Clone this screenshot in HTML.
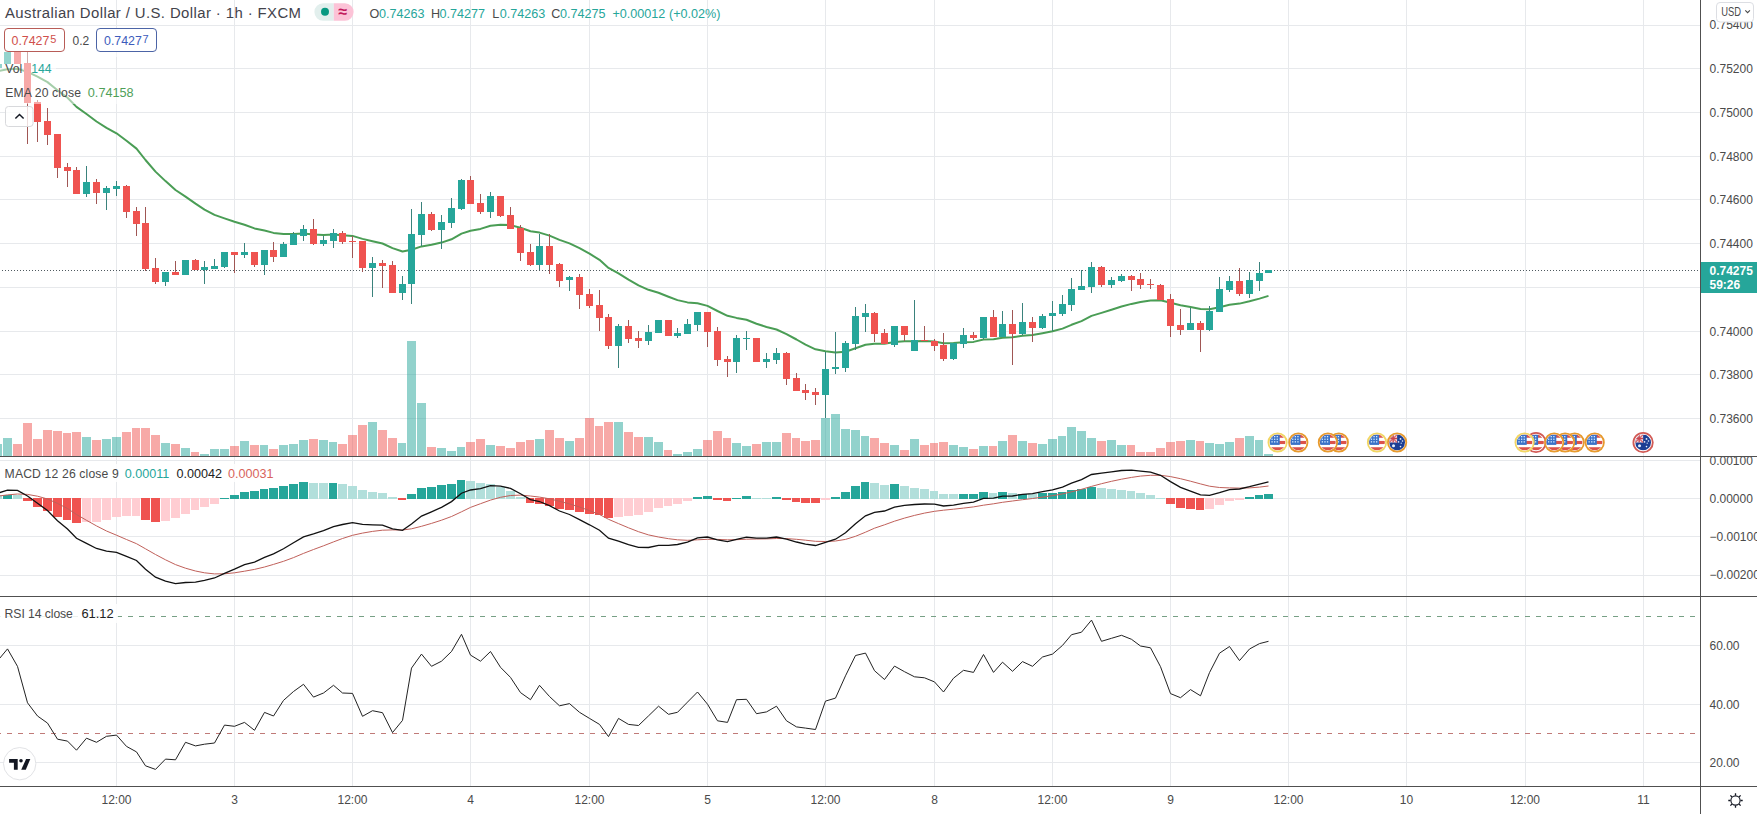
<!DOCTYPE html>
<html><head><meta charset="utf-8"><title>AUDUSD 1h</title>
<style>html,body{margin:0;padding:0;background:#fff;} .wrap{position:relative;width:1757px;height:814px;overflow:hidden;}</style>
</head><body><div class="wrap">
<svg width="1757" height="814" viewBox="0 0 1757 814" style="position:absolute;left:0;top:0;font-family:'Liberation Sans', Arial, sans-serif">
<rect x="0" y="0" width="1757" height="814" fill="#fff"/>
<path d="M116.5 0V786 M234.5 0V786 M352.5 0V786 M470.5 0V786 M589.5 0V786 M707.5 0V786 M825.5 0V786 M934.5 0V786 M1052.5 0V786 M1170.5 0V786 M1288.5 0V786 M1406.5 0V786 M1525.5 0V786 M1643.5 0V786 M0 25.5H1700 M0 68.5H1700 M0 112.5H1700 M0 156.5H1700 M0 199.5H1700 M0 243.5H1700 M0 287.5H1700 M0 331.5H1700 M0 374.5H1700 M0 418.5H1700 M0 460.5H1700 M0 498.5H1700 M0 536.5H1700 M0 575.5H1700 M0 645.5H1700 M0 704.5H1700 M0 762.5H1700" stroke="#e7e9ec" stroke-width="1" fill="none"/>
<defs><clipPath id="cm"><rect x="0" y="0" width="1700" height="456"/></clipPath><clipPath id="cmacd"><rect x="0" y="457" width="1700" height="139"/></clipPath><clipPath id="crsi"><rect x="0" y="597" width="1700" height="189"/></clipPath></defs>
<g clip-path="url(#cm)">
<path d="M0 270.5H1700" stroke="#505a60" stroke-width="1" stroke-dasharray="1 2" stroke-dashoffset="1"/>
<path d="M-6 444H2V456H-6ZM3 438H12V456H3ZM82 437H91V456H82ZM102 439H111V456H102ZM112 437H121V456H112ZM161 443H170V456H161ZM181 448H190V456H181ZM200 454H209V456H200ZM210 449H219V456H210ZM220 449H229V456H220ZM240 441H249V456H240ZM260 445H268V456H260ZM279 445H288V456H279ZM289 444H298V456H289ZM299 440H308V456H299ZM319 440H328V456H319ZM329 442H337V456H329ZM368 422H377V456H368ZM398 443H406V456H398ZM407 341H416V456H407ZM417 403H426V456H417ZM437 448H446V456H437ZM447 451H456V456H447ZM457 447H465V456H457ZM486 445H495V456H486ZM535 439H544V456H535ZM565 441H574V456H565ZM614 422H623V456H614ZM644 437H653V456H644ZM654 442H663V456H654ZM673 454H682V456H673ZM683 452H692V456H683ZM693 449H702V456H693ZM732 443H741V456H732ZM742 446H751V456H742ZM762 442H771V456H762ZM772 442H781V456H772ZM821 418H830V456H821ZM831 414H840V456H831ZM841 429H850V456H841ZM851 430H860V456H851ZM861 436H869V456H861ZM890 445H899V456H890ZM910 439H919V456H910ZM949 445H958V456H949ZM959 447H968V456H959ZM979 446H988V456H979ZM998 441H1007V456H998ZM1018 441H1027V456H1018ZM1038 444H1047V456H1038ZM1048 439H1057V456H1048ZM1058 436H1066V456H1058ZM1067 427H1076V456H1067ZM1077 431H1086V456H1077ZM1087 438H1096V456H1087ZM1107 440H1116V456H1107ZM1117 445H1126V456H1117ZM1186 440H1195V456H1186ZM1205 443H1214V456H1205ZM1215 444H1224V456H1215ZM1225 442H1234V456H1225ZM1245 436H1254V456H1245ZM1255 440H1263V456H1255ZM1264 454H1273V456H1264Z" fill="#26a69a" fill-opacity="0.5"/>
<path d="M13 444H22V456H13ZM23 423H32V456H23ZM33 439H42V456H33ZM43 430H52V456H43ZM53 431H62V456H53ZM63 433H71V456H63ZM72 432H81V456H72ZM92 440H101V456H92ZM122 432H131V456H122ZM132 428H140V456H132ZM141 428H150V456H141ZM151 435H160V456H151ZM171 444H180V456H171ZM191 452H199V456H191ZM230 446H239V456H230ZM250 445H259V456H250ZM269 449H278V456H269ZM309 439H318V456H309ZM338 444H347V456H338ZM348 435H357V456H348ZM358 425H367V456H358ZM378 430H387V456H378ZM388 438H397V456H388ZM427 447H436V456H427ZM466 442H475V456H466ZM476 439H485V456H476ZM496 446H505V456H496ZM506 448H515V456H506ZM516 442H525V456H516ZM526 440H534V456H526ZM545 430H554V456H545ZM555 438H564V456H555ZM575 438H584V456H575ZM585 418H594V456H585ZM595 426H603V456H595ZM604 422H613V456H604ZM624 432H633V456H624ZM634 437H643V456H634ZM664 450H672V456H664ZM703 440H712V456H703ZM713 431H722V456H713ZM723 438H731V456H723ZM752 444H761V456H752ZM782 433H791V456H782ZM792 438H800V456H792ZM801 441H810V456H801ZM811 440H820V456H811ZM870 438H879V456H870ZM880 443H889V456H880ZM900 450H909V456H900ZM920 445H929V456H920ZM930 443H938V456H930ZM939 442H948V456H939ZM969 449H978V456H969ZM989 446H997V456H989ZM1008 435H1017V456H1008ZM1028 443H1037V456H1028ZM1097 441H1106V456H1097ZM1127 445H1135V456H1127ZM1136 452H1145V456H1136ZM1146 452H1155V456H1146ZM1156 448H1165V456H1156ZM1166 442H1175V456H1166ZM1176 441H1185V456H1176ZM1196 441H1204V456H1196ZM1235 438H1244V456H1235Z" fill="#ef5350" fill-opacity="0.5"/>
<polyline points="-1.5,71.1 7.5,69.2 17.5,68.7 27.5,71.9 37.5,76.6 47.5,82.1 57.5,90.2 67.5,97.8 76.5,106.9 86.5,114.0 96.5,121.5 106.5,127.8 116.5,133.3 126.5,140.7 136.5,148.6 145.5,160.0 155.5,171.6 165.5,181.1 175.5,190.0 185.5,196.6 195.5,203.6 204.5,209.6 214.5,214.9 224.5,218.4 234.5,221.8 244.5,224.7 254.5,228.4 264.5,230.5 273.5,232.9 283.5,234.0 293.5,233.9 303.5,233.4 313.5,234.4 323.5,234.9 333.5,234.6 342.5,235.3 352.5,235.9 362.5,238.9 372.5,241.2 382.5,243.5 392.5,248.1 402.5,251.5 411.5,249.8 421.5,246.4 431.5,244.8 441.5,242.6 451.5,239.3 461.5,233.6 470.5,230.7 480.5,228.9 490.5,225.7 500.5,224.8 510.5,225.1 520.5,227.7 530.5,231.2 539.5,232.6 549.5,235.6 559.5,239.9 569.5,243.4 579.5,248.2 589.5,253.7 599.5,259.8 608.5,267.9 618.5,273.4 628.5,279.6 638.5,285.4 648.5,289.8 658.5,292.7 668.5,296.7 677.5,300.1 687.5,302.4 697.5,303.3 707.5,305.9 717.5,311.0 727.5,315.8 736.5,317.9 746.5,319.8 756.5,323.7 766.5,327.0 776.5,329.5 786.5,334.2 796.5,339.5 805.5,344.6 815.5,349.3 825.5,351.2 835.5,352.6 845.5,351.7 855.5,348.2 865.5,344.8 874.5,343.7 884.5,343.8 894.5,342.1 904.5,341.3 914.5,341.2 924.5,341.1 934.5,341.5 943.5,343.2 953.5,343.1 963.5,342.3 973.5,341.9 983.5,339.5 993.5,339.2 1002.5,337.7 1012.5,337.3 1022.5,335.8 1032.5,335.0 1042.5,333.2 1052.5,331.2 1062.5,328.6 1071.5,324.8 1081.5,321.1 1091.5,315.9 1101.5,312.9 1111.5,309.7 1121.5,306.5 1131.5,303.9 1140.5,302.0 1150.5,300.4 1160.5,300.3 1170.5,302.7 1180.5,305.2 1190.5,306.9 1200.5,309.0 1209.5,309.2 1219.5,307.2 1229.5,304.7 1239.5,303.6 1249.5,301.3 1259.5,298.6 1268.5,295.9" fill="none" stroke="#4a9d55" stroke-width="2" stroke-linejoin="round"/>
<path d="M-1.5 64V68M7.5 52V64M86.5 166V197M106.5 186V210M116.5 181V196M165.5 272V286M185.5 260V275M204.5 261V284M214.5 259V269M224.5 252V268M244.5 243V258M264.5 250V275M283.5 242V257M293.5 232V245M303.5 225V241M323.5 236V246M333.5 229V248M372.5 257V297M402.5 276V300M411.5 209V304M421.5 202V246M441.5 215V249M451.5 198V228M461.5 179V210M490.5 192V218M539.5 234V270M569.5 276V291M618.5 324V368M648.5 325V345M658.5 320V333M677.5 328V338M687.5 319V334M697.5 312V331M736.5 335V373M746.5 331V350M766.5 353V368M776.5 348V364M825.5 352V418M835.5 332V374M845.5 341V372M855.5 307V350M865.5 304V332M894.5 326V347M914.5 300V351M953.5 343V360M963.5 328V348M983.5 317V339M1002.5 311V337M1022.5 303V335M1042.5 314V329M1052.5 301V331M1062.5 295V316M1071.5 278V311M1081.5 270V290M1091.5 262V293M1111.5 277V288M1121.5 274V282M1190.5 308V330M1209.5 306V331M1219.5 277V312M1229.5 276V292M1249.5 272V298M1259.5 262V291M1268.5 270V273" stroke="#3a827c" stroke-width="1" fill="none"/>
<path d="M-5 64H2V68H-5ZM4 52H11V64H4ZM83 182H90V194H83ZM103 188H110V193H103ZM113 186H120V189H113ZM162 272H169V282H162ZM182 260H189V275H182ZM201 267H208V270H201ZM211 266H218V269H211ZM221 252H228V267H221ZM241 252H248V255H241ZM261 250H268V265H261ZM280 244H287V257H280ZM290 234H297V245H290ZM300 229H307V236H300ZM320 240H327V244H320ZM330 233H337V241H330ZM369 263H376V268H369ZM399 284H406V293H399ZM408 234H415V284H408ZM418 214H425V235H418ZM438 222H445V230H438ZM448 208H455V223H448ZM458 180H465V209H458ZM487 196H494V212H487ZM536 246H543V265H536ZM566 277H573V280H566ZM615 326H622V346H615ZM645 332H652V341H645ZM655 320H662V333H655ZM674 333H681V336H674ZM684 324H691V334H684ZM694 312H701V325H694ZM733 338H740V362H733ZM743 338H750V339H743ZM763 359H770V362H763ZM773 353H780V360H773ZM822 369H829V395H822ZM832 367H839V369H832ZM842 343H849V368H842ZM852 316H859V344H852ZM862 313H869V317H862ZM891 326H898V345H891ZM911 340H918V351H911ZM950 343H957V359H950ZM960 335H967V344H960ZM980 317H987V338H980ZM999 324H1006V337H999ZM1019 322H1026V334H1019ZM1039 316H1046V328H1039ZM1049 313H1056V316H1049ZM1059 304H1066V314H1059ZM1068 289H1075V305H1068ZM1078 286H1085V290H1078ZM1088 267H1095V287H1088ZM1108 280H1115V285H1108ZM1118 276H1125V281H1118ZM1187 323H1194V330H1187ZM1206 311H1213V330H1206ZM1216 289H1223V312H1216ZM1226 281H1233V290H1226ZM1246 280H1253V294H1246ZM1256 273H1263V281H1256ZM1265 270H1272V273H1265Z" fill="#26a69a"/>
<path d="M17.5 52V64M27.5 50V144M37.5 100V142M47.5 108V145M57.5 134V178M67.5 163V187M76.5 167V194M96.5 179V204M126.5 185V218M136.5 207V236M145.5 207V271M155.5 258V284M175.5 261V275M195.5 259V270M234.5 252V273M254.5 252V267M273.5 242V262M313.5 219V245M342.5 231V244M352.5 236V258M362.5 241V272M382.5 260V288M392.5 261V293M431.5 212V231M470.5 176V204M480.5 194V214M500.5 196V217M510.5 207V229M520.5 225V261M530.5 244V266M549.5 234V274M559.5 263V287M579.5 274V309M589.5 289V308M599.5 290V331M608.5 314V349M628.5 320V343M638.5 331V348M668.5 320V336M707.5 312V347M717.5 327V366M727.5 356V377M756.5 338V362M786.5 352V385M796.5 373V391M805.5 384V400M815.5 388V405M874.5 312V342M884.5 329V344M904.5 326V341M924.5 326V341M934.5 339V351M943.5 333V361M973.5 332V340M993.5 310V337M1012.5 310V365M1032.5 317V342M1101.5 266V287M1131.5 275V291M1140.5 273V289M1150.5 279V289M1160.5 284V300M1170.5 294V337M1180.5 309V335M1200.5 321V352M1239.5 268V296" stroke="#a05654" stroke-width="1" fill="none"/>
<path d="M14 52H21V64H14ZM24 63H31V103H24ZM34 102H41V122H34ZM44 121H51V135H44ZM54 134H61V168H54ZM64 167H71V171H64ZM73 170H80V194H73ZM93 182H100V193H93ZM123 186H130V212H123ZM133 211H140V224H133ZM142 223H149V269H142ZM152 268H159V282H152ZM172 272H179V275H172ZM192 260H199V270H192ZM231 252H238V255H231ZM251 252H258V265H251ZM270 250H277V257H270ZM310 229H317V244H310ZM339 233H346V242H339ZM349 241H356V242H349ZM359 241H366V268H359ZM379 263H386V266H379ZM389 265H396V293H389ZM428 214H435V230H428ZM467 180H474V204H467ZM477 203H484V212H477ZM497 196H504V216H497ZM507 215H514V229H507ZM517 228H524V253H517ZM527 252H534V265H527ZM546 246H553V265H546ZM556 264H563V281H556ZM576 277H583V295H576ZM586 294H593V306H586ZM596 305H603V318H596ZM605 317H612V346H605ZM625 326H632V339H625ZM635 338H642V341H635ZM665 320H672V336H665ZM704 312H711V332H704ZM714 331H721V360H714ZM724 359H731V362H724ZM753 338H760V362H753ZM783 353H790V379H783ZM793 378H800V391H793ZM802 390H809V393H802ZM812 392H819V395H812ZM871 313H878V334H871ZM881 333H888V344H881ZM901 326H908V335H901ZM921 340H928V341H921ZM931 341H938V346H931ZM940 345H947V359H940ZM970 335H977V338H970ZM990 317H997V337H990ZM1009 324H1016V334H1009ZM1029 322H1036V328H1029ZM1098 267H1105V285H1098ZM1128 276H1135V280H1128ZM1137 279H1144V285H1137ZM1147 284H1154V285H1147ZM1157 285H1164V300H1157ZM1167 299H1174V326H1167ZM1177 325H1184V330H1177ZM1197 323H1204V330H1197ZM1236 281H1243V294H1236Z" fill="#ef5350"/>
<rect x="0" y="28" width="160" height="29" fill="#fff" fill-opacity="0.5"/>
<rect x="0" y="57" width="56" height="23" fill="#fff" fill-opacity="0.5"/>
<rect x="0" y="80" width="138" height="24" fill="#fff" fill-opacity="0.5"/>
</g>
<g clip-path="url(#cmacd)">
<path d="M3 495H12V499H3ZM220 498H229V499H220ZM230 495H239V499H230ZM240 492H249V499H240ZM250 491H259V499H250ZM260 489H268V499H260ZM269 488H278V499H269ZM279 486H288V499H279ZM289 484H298V499H289ZM299 482H308V499H299ZM329 483H337V499H329ZM407 494H416V499H407ZM417 488H426V499H417ZM427 487H436V499H427ZM437 485H446V499H437ZM447 484H456V499H447ZM457 480H465V499H457ZM693 497H702V499H693ZM703 496H712V499H703ZM732 498H741V499H732ZM742 496H751V499H742ZM772 497H781V499H772ZM831 497H840V499H831ZM841 492H850V499H841ZM851 486H860V499H851ZM861 482H869V499H861ZM890 484H899V499H890ZM959 494H968V499H959ZM969 494H978V499H969ZM979 492H988V499H979ZM998 492H1007V499H998ZM1018 494H1027V499H1018ZM1038 493H1047V499H1038ZM1048 493H1057V499H1048ZM1058 492H1066V499H1058ZM1067 490H1076V499H1067ZM1077 489H1086V499H1077ZM1087 487H1096V499H1087ZM1245 497H1254V499H1245ZM1255 495H1263V499H1255ZM1264 494H1273V499H1264Z" fill="#26a69a"/>
<path d="M-6 495H2V499H-6ZM13 495H22V499H13ZM309 483H318V499H309ZM319 483H328V499H319ZM338 484H347V499H338ZM348 486H357V499H348ZM358 490H367V499H358ZM368 492H377V499H368ZM378 493H387V499H378ZM388 497H397V499H388ZM466 481H475V499H466ZM476 483H485V499H476ZM486 484H495V499H486ZM496 487H505V499H496ZM506 491H515V499H506ZM516 497H525V499H516ZM752 498H761V499H752ZM762 498H771V499H762ZM870 483H879V499H870ZM880 485H889V499H880ZM900 486H909V499H900ZM910 488H919V499H910ZM920 489H929V499H920ZM930 491H938V499H930ZM939 494H948V499H939ZM949 494H958V499H949ZM989 493H997V499H989ZM1008 493H1017V499H1008ZM1028 494H1037V499H1028ZM1097 488H1106V499H1097ZM1107 489H1116V499H1107ZM1117 490H1126V499H1117ZM1127 491H1135V499H1127ZM1136 493H1145V499H1136ZM1146 495H1155V499H1146ZM1156 498H1165V499H1156Z" fill="#b2dfdb"/>
<path d="M23 498H32V501H23ZM33 498H42V507H33ZM43 498H52V511H43ZM53 498H62V517H53ZM63 498H71V520H63ZM72 498H81V523H72ZM141 498H150V520H141ZM151 498H160V522H151ZM398 498H406V500H398ZM526 498H534V503H526ZM535 498H544V504H535ZM545 498H554V506H545ZM555 498H564V509H555ZM565 498H574V510H565ZM575 498H584V512H575ZM585 498H594V514H585ZM595 498H603V515H595ZM604 498H613V518H604ZM713 498H722V500H713ZM723 498H731V501H723ZM782 498H791V500H782ZM792 498H800V502H792ZM801 498H810V503H801ZM811 498H820V503H811ZM1166 498H1175V504H1166ZM1176 498H1185V508H1176ZM1186 498H1195V509H1186ZM1196 498H1204V510H1196Z" fill="#ef5350"/>
<path d="M82 498H91V522H82ZM92 498H101V522H92ZM102 498H111V520H102ZM112 498H121V517H112ZM122 498H131V516H122ZM132 498H140V516H132ZM161 498H170V521H161ZM171 498H180V518H171ZM181 498H190V514H181ZM191 498H199V510H191ZM200 498H209V507H200ZM210 498H219V504H210ZM614 498H623V517H614ZM624 498H633V516H624ZM634 498H643V515H634ZM644 498H653V512H644ZM654 498H663V508H654ZM664 498H672V506H664ZM673 498H682V504H673ZM683 498H692V501H683ZM821 498H830V500H821ZM1205 498H1214V509H1205ZM1215 498H1224V505H1215ZM1225 498H1234V501H1225ZM1235 498H1244V500H1235Z" fill="#ffcdd2"/>
<polyline points="-1.5,496.1 7.5,494.9 17.5,494.0 27.5,494.4 37.5,496.2 47.5,499.0 57.5,503.4 67.5,508.5 76.5,514.5 86.5,520.3 96.5,525.9 106.5,531.0 116.5,535.2 126.5,539.5 136.5,543.7 145.5,548.8 155.5,554.5 165.5,559.8 175.5,564.6 185.5,568.2 195.5,571.0 204.5,572.8 214.5,573.9 224.5,573.8 234.5,572.8 244.5,571.2 254.5,569.4 264.5,567.0 273.5,564.4 283.5,561.3 293.5,557.6 303.5,553.4 313.5,549.5 323.5,545.8 333.5,541.9 342.5,538.5 352.5,535.3 362.5,533.1 372.5,531.4 382.5,530.2 392.5,529.9 402.5,530.0 411.5,528.8 421.5,526.3 431.5,523.4 441.5,520.2 451.5,516.5 461.5,511.8 470.5,507.4 480.5,503.7 490.5,500.1 500.5,497.3 510.5,495.5 520.5,495.1 530.5,496.0 539.5,497.1 549.5,498.8 559.5,501.3 569.5,503.9 579.5,507.0 589.5,510.6 599.5,514.5 608.5,519.3 618.5,523.6 628.5,527.8 638.5,531.7 648.5,534.9 658.5,537.0 668.5,538.7 677.5,539.8 687.5,540.3 697.5,539.8 707.5,539.3 717.5,539.4 727.5,539.8 736.5,539.7 746.5,539.2 756.5,539.0 766.5,538.9 776.5,538.5 786.5,538.6 796.5,539.3 805.5,540.2 815.5,541.3 825.5,541.5 835.5,541.0 845.5,539.4 855.5,536.3 865.5,532.2 874.5,528.2 884.5,524.8 894.5,521.2 904.5,518.1 914.5,515.4 924.5,513.1 934.5,511.3 943.5,510.2 953.5,509.2 963.5,508.1 973.5,506.9 983.5,505.2 993.5,503.8 1002.5,502.3 1012.5,501.0 1022.5,499.7 1032.5,498.5 1042.5,497.1 1052.5,495.7 1062.5,493.9 1071.5,491.8 1081.5,489.3 1091.5,486.4 1101.5,483.7 1111.5,481.3 1121.5,479.2 1131.5,477.4 1140.5,476.1 1150.5,475.3 1160.5,475.3 1170.5,476.6 1180.5,478.7 1190.5,481.2 1200.5,483.9 1209.5,486.2 1219.5,487.5 1229.5,487.9 1239.5,488.1 1249.5,487.9 1259.5,487.1 1268.5,486.0" fill="none" stroke="#c0605a" stroke-width="1"/>
<polyline points="-1.5,492.9 7.5,490.2 17.5,490.4 27.5,496.0 37.5,503.2 47.5,510.5 57.5,520.8 67.5,529.0 76.5,538.3 86.5,543.4 96.5,548.5 106.5,551.2 116.5,552.4 126.5,556.4 136.5,560.5 145.5,569.3 155.5,577.2 165.5,581.1 175.5,583.6 185.5,582.5 195.5,582.1 204.5,580.4 214.5,578.0 224.5,573.3 234.5,569.1 244.5,564.6 254.5,562.1 264.5,557.4 273.5,553.9 283.5,548.8 293.5,542.8 303.5,536.9 313.5,533.9 323.5,530.6 333.5,526.7 342.5,524.5 352.5,522.6 362.5,524.3 372.5,524.8 382.5,525.2 392.5,528.9 402.5,530.3 411.5,524.1 421.5,516.1 431.5,511.8 441.5,507.3 451.5,501.6 461.5,493.2 470.5,490.0 480.5,488.7 490.5,485.6 500.5,486.1 510.5,488.4 520.5,493.7 530.5,499.6 539.5,501.5 549.5,505.6 559.5,511.0 569.5,514.5 579.5,519.6 589.5,524.8 599.5,530.3 608.5,538.2 618.5,541.1 628.5,544.7 638.5,547.3 648.5,547.5 658.5,545.4 668.5,545.4 677.5,544.5 687.5,542.1 697.5,537.9 707.5,537.0 717.5,539.8 727.5,541.7 736.5,539.4 746.5,537.1 756.5,538.2 766.5,538.2 776.5,537.0 786.5,539.1 796.5,542.0 805.5,544.1 815.5,545.5 825.5,542.4 835.5,539.2 845.5,532.8 855.5,523.7 865.5,515.8 874.5,512.3 884.5,511.0 894.5,507.2 904.5,505.3 914.5,504.5 924.5,504.0 934.5,504.1 943.5,506.0 953.5,505.2 963.5,503.4 973.5,502.2 983.5,498.4 993.5,498.2 1002.5,496.2 1012.5,496.0 1022.5,494.3 1032.5,493.7 1042.5,491.7 1052.5,489.8 1062.5,487.1 1071.5,483.1 1081.5,479.6 1091.5,474.5 1101.5,473.2 1111.5,471.8 1121.5,470.5 1131.5,470.2 1140.5,471.1 1150.5,472.1 1160.5,475.3 1170.5,481.6 1180.5,487.3 1190.5,491.1 1200.5,494.9 1209.5,495.4 1219.5,492.7 1229.5,489.6 1239.5,489.0 1249.5,486.7 1259.5,484.1 1268.5,481.8" fill="none" stroke="#111" stroke-width="1.3"/>
</g>
<g clip-path="url(#crsi)">
<path d="M0 616.5H1700" stroke="#77a085" stroke-width="1" stroke-dasharray="5 6" stroke-dashoffset="4"/>
<path d="M0 733.5H1700" stroke="#c07a78" stroke-width="1" stroke-dasharray="5 6" stroke-dashoffset="4"/>
<polyline points="-1.5,659.7 7.5,648.9 17.5,666.4 27.5,702.8 37.5,716.0 47.5,723.1 57.5,739.2 67.5,741.1 76.5,750.2 86.5,738.2 96.5,742.3 106.5,736.3 116.5,735.1 126.5,746.4 136.5,751.9 145.5,765.8 155.5,769.4 165.5,759.1 175.5,759.8 185.5,742.3 195.5,745.9 204.5,744.2 214.5,743.0 224.5,725.1 234.5,726.3 244.5,722.4 254.5,730.3 264.5,712.4 273.5,716.0 283.5,700.4 293.5,691.5 303.5,684.3 313.5,697.1 323.5,693.0 333.5,685.3 342.5,693.0 352.5,693.4 362.5,716.3 372.5,710.7 382.5,712.7 392.5,732.6 402.5,720.4 411.5,668.1 421.5,654.1 431.5,666.3 441.5,661.2 451.5,651.5 461.5,634.3 470.5,655.1 480.5,661.2 490.5,651.5 500.5,667.3 510.5,677.4 520.5,692.6 530.5,699.7 539.5,685.3 549.5,696.5 559.5,705.8 569.5,703.6 579.5,712.3 589.5,718.4 599.5,724.4 608.5,736.6 618.5,718.4 628.5,724.4 638.5,725.5 648.5,715.9 658.5,706.2 668.5,714.3 677.5,712.3 687.5,702.1 697.5,692.0 707.5,704.2 717.5,720.8 727.5,722.4 736.5,699.7 746.5,699.3 756.5,713.7 766.5,711.9 776.5,706.2 786.5,720.8 796.5,726.9 805.5,728.1 815.5,729.5 825.5,701.1 835.5,698.1 845.5,675.8 855.5,655.5 865.5,653.1 874.5,670.7 884.5,679.5 894.5,666.1 904.5,671.7 914.5,676.8 924.5,677.8 934.5,681.9 943.5,692.0 953.5,678.2 963.5,670.3 973.5,672.4 983.5,654.5 993.5,672.4 1002.5,662.2 1012.5,671.3 1022.5,661.6 1032.5,666.3 1042.5,657.0 1052.5,654.1 1062.5,645.4 1071.5,634.7 1081.5,632.2 1091.5,620.1 1101.5,641.3 1111.5,638.3 1121.5,635.3 1131.5,639.3 1140.5,646.0 1150.5,647.8 1160.5,666.7 1170.5,693.6 1180.5,697.7 1190.5,689.6 1200.5,695.8 1209.5,672.6 1219.5,653.2 1229.5,646.5 1239.5,660.6 1249.5,649.0 1259.5,643.6 1268.5,641.3" fill="none" stroke="#222" stroke-width="1"/>
</g>
<path d="M0 456.5H1757M0 596.5H1757M0 786.5H1757M1700.5 0V814" stroke="#505050" stroke-width="1"/>
<text x="1709.5" y="72.9" font-size="12" fill="#4a4a4a">0.75200</text>
<text x="1709.5" y="116.9" font-size="12" fill="#4a4a4a">0.75000</text>
<text x="1709.5" y="160.9" font-size="12" fill="#4a4a4a">0.74800</text>
<text x="1709.5" y="203.9" font-size="12" fill="#4a4a4a">0.74600</text>
<text x="1709.5" y="247.9" font-size="12" fill="#4a4a4a">0.74400</text>
<text x="1709.5" y="335.9" font-size="12" fill="#4a4a4a">0.74000</text>
<text x="1709.5" y="378.9" font-size="12" fill="#4a4a4a">0.73800</text>
<text x="1709.5" y="422.9" font-size="12" fill="#4a4a4a">0.73600</text>
<text x="1709.5" y="29.0" font-size="12" fill="#4a4a4a">0.75400</text>
<text x="1709.5" y="464.9" font-size="12" fill="#4a4a4a">0.00100</text>
<text x="1709.5" y="502.9" font-size="12" fill="#4a4a4a">0.00000</text>
<text x="1709.5" y="540.9" font-size="12" fill="#4a4a4a">−0.00100</text>
<text x="1709.5" y="579.4" font-size="12" fill="#4a4a4a">−0.00200</text>
<text x="1709.5" y="649.9" font-size="12" fill="#4a4a4a">60.00</text>
<text x="1709.5" y="708.9" font-size="12" fill="#4a4a4a">40.00</text>
<text x="1709.5" y="766.9" font-size="12" fill="#4a4a4a">20.00</text>
<rect x="1701" y="452" width="56" height="4" fill="#fff"/>
<path d="M1700 456.5H1757" stroke="#505050" stroke-width="1"/>
<rect x="1701" y="262" width="56" height="31" fill="#26a69a"/>
<text x="1709.5" y="274.8" font-size="12" fill="#fff" font-weight="bold">0.74275</text>
<text x="1709.5" y="289" font-size="12" fill="#fff" font-weight="bold">59:26</text>
<rect x="1716.5" y="2.5" width="37" height="19.5" rx="3.5" fill="#fff" stroke="#dcdee3"/>
<text x="1721.2" y="16" font-size="12.4" fill="#4a4a4a" textLength="19.8" lengthAdjust="spacingAndGlyphs">USD</text>
<path d="M1745.3 10.4l2.3 2.3 2.3-2.3" stroke="#4a4a4a" stroke-width="1.1" fill="none"/>
<text x="116.5" y="804" font-size="12" fill="#4a4a4a" text-anchor="middle">12:00</text>
<text x="234.5" y="804" font-size="12" fill="#4a4a4a" text-anchor="middle">3</text>
<text x="352.5" y="804" font-size="12" fill="#4a4a4a" text-anchor="middle">12:00</text>
<text x="470.5" y="804" font-size="12" fill="#4a4a4a" text-anchor="middle">4</text>
<text x="589.5" y="804" font-size="12" fill="#4a4a4a" text-anchor="middle">12:00</text>
<text x="707.5" y="804" font-size="12" fill="#4a4a4a" text-anchor="middle">5</text>
<text x="825.5" y="804" font-size="12" fill="#4a4a4a" text-anchor="middle">12:00</text>
<text x="934.5" y="804" font-size="12" fill="#4a4a4a" text-anchor="middle">8</text>
<text x="1052.5" y="804" font-size="12" fill="#4a4a4a" text-anchor="middle">12:00</text>
<text x="1170.5" y="804" font-size="12" fill="#4a4a4a" text-anchor="middle">9</text>
<text x="1288.5" y="804" font-size="12" fill="#4a4a4a" text-anchor="middle">12:00</text>
<text x="1406.5" y="804" font-size="12" fill="#4a4a4a" text-anchor="middle">10</text>
<text x="1525" y="804" font-size="12" fill="#4a4a4a" text-anchor="middle">12:00</text>
<text x="1643.5" y="804" font-size="12" fill="#4a4a4a" text-anchor="middle">11</text>
<circle cx="1735.5" cy="800.5" r="4.6" fill="none" stroke="#131722" stroke-width="1.1"/>
<path d="M1740.50 800.50L1742.70 800.50M1739.04 804.04L1740.59 805.59M1735.50 805.50L1735.50 807.70M1731.96 804.04L1730.41 805.59M1730.50 800.50L1728.30 800.50M1731.96 796.96L1730.41 795.41M1735.50 795.50L1735.50 793.30M1739.04 796.96L1740.59 795.41" stroke="#131722" stroke-width="1.3"/>
<circle cx="1298.3" cy="442.5" r="9.20" fill="#fff" stroke="#e79a2d" stroke-width="1.8"/><clipPath id="f12983"><circle cx="1298.3" cy="442.5" r="7.9"/></clipPath><g clip-path="url(#f12983)"><rect x="1290.3999999999999" y="434.6" width="15.8" height="15.8" fill="#fff"/><rect x="1290.3999999999999" y="434.60" width="15.8" height="3.16" fill="#dc524a"/><rect x="1290.3999999999999" y="440.92" width="15.8" height="3.16" fill="#dc524a"/><rect x="1290.3999999999999" y="447.24" width="15.8" height="3.16" fill="#dc524a"/><rect x="1290.3999999999999" y="434.6" width="10.00" height="10.30" fill="#3a72c8"/><rect x="1292.10" y="436.00" width="1.3" height="1.3" fill="#d8ecff"/><rect x="1294.70" y="436.00" width="1.3" height="1.3" fill="#d8ecff"/><rect x="1297.30" y="436.00" width="1.3" height="1.3" fill="#d8ecff"/><rect x="1292.10" y="438.60" width="1.3" height="1.3" fill="#d8ecff"/><rect x="1294.70" y="438.60" width="1.3" height="1.3" fill="#d8ecff"/><rect x="1297.30" y="438.60" width="1.3" height="1.3" fill="#d8ecff"/><rect x="1292.10" y="441.20" width="1.3" height="1.3" fill="#d8ecff"/><rect x="1294.70" y="441.20" width="1.3" height="1.3" fill="#d8ecff"/><rect x="1297.30" y="441.20" width="1.3" height="1.3" fill="#d8ecff"/></g>
<circle cx="1277.6" cy="442.5" r="9.20" fill="#fff" stroke="#f2d663" stroke-width="1.8"/><clipPath id="f12776"><circle cx="1277.6" cy="442.5" r="7.9"/></clipPath><g clip-path="url(#f12776)"><rect x="1269.6999999999998" y="434.6" width="15.8" height="15.8" fill="#fff"/><rect x="1269.6999999999998" y="434.60" width="15.8" height="3.16" fill="#dc524a"/><rect x="1269.6999999999998" y="440.92" width="15.8" height="3.16" fill="#dc524a"/><rect x="1269.6999999999998" y="447.24" width="15.8" height="3.16" fill="#dc524a"/><rect x="1269.6999999999998" y="434.6" width="10.00" height="10.30" fill="#3a72c8"/><rect x="1271.40" y="436.00" width="1.3" height="1.3" fill="#d8ecff"/><rect x="1274.00" y="436.00" width="1.3" height="1.3" fill="#d8ecff"/><rect x="1276.60" y="436.00" width="1.3" height="1.3" fill="#d8ecff"/><rect x="1271.40" y="438.60" width="1.3" height="1.3" fill="#d8ecff"/><rect x="1274.00" y="438.60" width="1.3" height="1.3" fill="#d8ecff"/><rect x="1276.60" y="438.60" width="1.3" height="1.3" fill="#d8ecff"/><rect x="1271.40" y="441.20" width="1.3" height="1.3" fill="#d8ecff"/><rect x="1274.00" y="441.20" width="1.3" height="1.3" fill="#d8ecff"/><rect x="1276.60" y="441.20" width="1.3" height="1.3" fill="#d8ecff"/></g>
<circle cx="1338.8" cy="442.5" r="9.20" fill="#fff" stroke="#e79a2d" stroke-width="1.8"/><clipPath id="f13388"><circle cx="1338.8" cy="442.5" r="7.9"/></clipPath><g clip-path="url(#f13388)"><rect x="1330.8999999999999" y="434.6" width="15.8" height="15.8" fill="#fff"/><rect x="1330.8999999999999" y="434.60" width="15.8" height="3.16" fill="#dc524a"/><rect x="1330.8999999999999" y="440.92" width="15.8" height="3.16" fill="#dc524a"/><rect x="1330.8999999999999" y="447.24" width="15.8" height="3.16" fill="#dc524a"/><rect x="1330.8999999999999" y="434.6" width="10.00" height="10.30" fill="#3a72c8"/><rect x="1332.60" y="436.00" width="1.3" height="1.3" fill="#d8ecff"/><rect x="1335.20" y="436.00" width="1.3" height="1.3" fill="#d8ecff"/><rect x="1337.80" y="436.00" width="1.3" height="1.3" fill="#d8ecff"/><rect x="1332.60" y="438.60" width="1.3" height="1.3" fill="#d8ecff"/><rect x="1335.20" y="438.60" width="1.3" height="1.3" fill="#d8ecff"/><rect x="1337.80" y="438.60" width="1.3" height="1.3" fill="#d8ecff"/><rect x="1332.60" y="441.20" width="1.3" height="1.3" fill="#d8ecff"/><rect x="1335.20" y="441.20" width="1.3" height="1.3" fill="#d8ecff"/><rect x="1337.80" y="441.20" width="1.3" height="1.3" fill="#d8ecff"/></g>
<circle cx="1327.9" cy="442.5" r="9.20" fill="#fff" stroke="#e79a2d" stroke-width="1.8"/><clipPath id="f13279"><circle cx="1327.9" cy="442.5" r="7.9"/></clipPath><g clip-path="url(#f13279)"><rect x="1320.0" y="434.6" width="15.8" height="15.8" fill="#fff"/><rect x="1320.0" y="434.60" width="15.8" height="3.16" fill="#dc524a"/><rect x="1320.0" y="440.92" width="15.8" height="3.16" fill="#dc524a"/><rect x="1320.0" y="447.24" width="15.8" height="3.16" fill="#dc524a"/><rect x="1320.0" y="434.6" width="10.00" height="10.30" fill="#3a72c8"/><rect x="1321.70" y="436.00" width="1.3" height="1.3" fill="#d8ecff"/><rect x="1324.30" y="436.00" width="1.3" height="1.3" fill="#d8ecff"/><rect x="1326.90" y="436.00" width="1.3" height="1.3" fill="#d8ecff"/><rect x="1321.70" y="438.60" width="1.3" height="1.3" fill="#d8ecff"/><rect x="1324.30" y="438.60" width="1.3" height="1.3" fill="#d8ecff"/><rect x="1326.90" y="438.60" width="1.3" height="1.3" fill="#d8ecff"/><rect x="1321.70" y="441.20" width="1.3" height="1.3" fill="#d8ecff"/><rect x="1324.30" y="441.20" width="1.3" height="1.3" fill="#d8ecff"/><rect x="1326.90" y="441.20" width="1.3" height="1.3" fill="#d8ecff"/></g>
<circle cx="1397.1" cy="442.5" r="9.20" fill="#fff" stroke="#e79a2d" stroke-width="1.8"/><clipPath id="f13971"><circle cx="1397.1" cy="442.5" r="7.9"/></clipPath><g clip-path="url(#f13971)"><rect x="1389.1999999999998" y="434.6" width="15.8" height="15.8" fill="#1c3f94"/><rect x="1389.1999999999998" y="434.6" width="7.9" height="7.9" fill="#f3e6ec"/><path d="M1389.1999999999998 434.6L1397.1 442.5M1397.1 434.6L1389.1999999999998 442.5" stroke="#d9646a" stroke-width="1.2"/><path d="M1393.15 434.6V442.5M1389.1999999999998 438.55H1397.1" stroke="#c8454f" stroke-width="1.4"/><circle cx="1400.50" cy="438.90" r="0.9" fill="#e6f2ff"/><circle cx="1402.50" cy="441.00" r="0.8" fill="#e6f2ff"/><circle cx="1398.60" cy="441.90" r="0.8" fill="#e6f2ff"/><circle cx="1401.20" cy="443.20" r="0.6" fill="#e6f2ff"/><circle cx="1400.50" cy="446.60" r="0.8" fill="#e6f2ff"/><circle cx="1393.50" cy="445.80" r="1.5" fill="#e6f2ff"/></g>
<circle cx="1377" cy="442.5" r="9.20" fill="#fff" stroke="#f2d663" stroke-width="1.8"/><clipPath id="f13770"><circle cx="1377" cy="442.5" r="7.9"/></clipPath><g clip-path="url(#f13770)"><rect x="1369.1" y="434.6" width="15.8" height="15.8" fill="#fff"/><rect x="1369.1" y="434.60" width="15.8" height="3.16" fill="#dc524a"/><rect x="1369.1" y="440.92" width="15.8" height="3.16" fill="#dc524a"/><rect x="1369.1" y="447.24" width="15.8" height="3.16" fill="#dc524a"/><rect x="1369.1" y="434.6" width="10.00" height="10.30" fill="#3a72c8"/><rect x="1370.80" y="436.00" width="1.3" height="1.3" fill="#d8ecff"/><rect x="1373.40" y="436.00" width="1.3" height="1.3" fill="#d8ecff"/><rect x="1376.00" y="436.00" width="1.3" height="1.3" fill="#d8ecff"/><rect x="1370.80" y="438.60" width="1.3" height="1.3" fill="#d8ecff"/><rect x="1373.40" y="438.60" width="1.3" height="1.3" fill="#d8ecff"/><rect x="1376.00" y="438.60" width="1.3" height="1.3" fill="#d8ecff"/><rect x="1370.80" y="441.20" width="1.3" height="1.3" fill="#d8ecff"/><rect x="1373.40" y="441.20" width="1.3" height="1.3" fill="#d8ecff"/><rect x="1376.00" y="441.20" width="1.3" height="1.3" fill="#d8ecff"/></g>
<circle cx="1536" cy="442.5" r="9.70" fill="#fff" stroke="#d25a55" stroke-width="1.8"/><clipPath id="f15360"><circle cx="1536" cy="442.5" r="7.9"/></clipPath><g clip-path="url(#f15360)"><rect x="1528.1" y="434.6" width="15.8" height="15.8" fill="#fff"/><rect x="1528.1" y="434.60" width="15.8" height="3.16" fill="#dc524a"/><rect x="1528.1" y="440.92" width="15.8" height="3.16" fill="#dc524a"/><rect x="1528.1" y="447.24" width="15.8" height="3.16" fill="#dc524a"/><rect x="1528.1" y="434.6" width="10.00" height="10.30" fill="#3a72c8"/><rect x="1529.80" y="436.00" width="1.3" height="1.3" fill="#d8ecff"/><rect x="1532.40" y="436.00" width="1.3" height="1.3" fill="#d8ecff"/><rect x="1535.00" y="436.00" width="1.3" height="1.3" fill="#d8ecff"/><rect x="1529.80" y="438.60" width="1.3" height="1.3" fill="#d8ecff"/><rect x="1532.40" y="438.60" width="1.3" height="1.3" fill="#d8ecff"/><rect x="1535.00" y="438.60" width="1.3" height="1.3" fill="#d8ecff"/><rect x="1529.80" y="441.20" width="1.3" height="1.3" fill="#d8ecff"/><rect x="1532.40" y="441.20" width="1.3" height="1.3" fill="#d8ecff"/><rect x="1535.00" y="441.20" width="1.3" height="1.3" fill="#d8ecff"/></g>
<circle cx="1524.6" cy="442.5" r="9.20" fill="#fff" stroke="#f2d663" stroke-width="1.8"/><clipPath id="f15246"><circle cx="1524.6" cy="442.5" r="7.9"/></clipPath><g clip-path="url(#f15246)"><rect x="1516.6999999999998" y="434.6" width="15.8" height="15.8" fill="#fff"/><rect x="1516.6999999999998" y="434.60" width="15.8" height="3.16" fill="#dc524a"/><rect x="1516.6999999999998" y="440.92" width="15.8" height="3.16" fill="#dc524a"/><rect x="1516.6999999999998" y="447.24" width="15.8" height="3.16" fill="#dc524a"/><rect x="1516.6999999999998" y="434.6" width="10.00" height="10.30" fill="#3a72c8"/><rect x="1518.40" y="436.00" width="1.3" height="1.3" fill="#d8ecff"/><rect x="1521.00" y="436.00" width="1.3" height="1.3" fill="#d8ecff"/><rect x="1523.60" y="436.00" width="1.3" height="1.3" fill="#d8ecff"/><rect x="1518.40" y="438.60" width="1.3" height="1.3" fill="#d8ecff"/><rect x="1521.00" y="438.60" width="1.3" height="1.3" fill="#d8ecff"/><rect x="1523.60" y="438.60" width="1.3" height="1.3" fill="#d8ecff"/><rect x="1518.40" y="441.20" width="1.3" height="1.3" fill="#d8ecff"/><rect x="1521.00" y="441.20" width="1.3" height="1.3" fill="#d8ecff"/><rect x="1523.60" y="441.20" width="1.3" height="1.3" fill="#d8ecff"/></g>
<circle cx="1574.7" cy="442.5" r="9.20" fill="#fff" stroke="#e79a2d" stroke-width="1.8"/><clipPath id="f15747"><circle cx="1574.7" cy="442.5" r="7.9"/></clipPath><g clip-path="url(#f15747)"><rect x="1566.8" y="434.6" width="15.8" height="15.8" fill="#fff"/><rect x="1566.8" y="434.60" width="15.8" height="3.16" fill="#dc524a"/><rect x="1566.8" y="440.92" width="15.8" height="3.16" fill="#dc524a"/><rect x="1566.8" y="447.24" width="15.8" height="3.16" fill="#dc524a"/><rect x="1566.8" y="434.6" width="10.00" height="10.30" fill="#3a72c8"/><rect x="1568.50" y="436.00" width="1.3" height="1.3" fill="#d8ecff"/><rect x="1571.10" y="436.00" width="1.3" height="1.3" fill="#d8ecff"/><rect x="1573.70" y="436.00" width="1.3" height="1.3" fill="#d8ecff"/><rect x="1568.50" y="438.60" width="1.3" height="1.3" fill="#d8ecff"/><rect x="1571.10" y="438.60" width="1.3" height="1.3" fill="#d8ecff"/><rect x="1573.70" y="438.60" width="1.3" height="1.3" fill="#d8ecff"/><rect x="1568.50" y="441.20" width="1.3" height="1.3" fill="#d8ecff"/><rect x="1571.10" y="441.20" width="1.3" height="1.3" fill="#d8ecff"/><rect x="1573.70" y="441.20" width="1.3" height="1.3" fill="#d8ecff"/></g>
<circle cx="1565.1" cy="442.5" r="9.20" fill="#fff" stroke="#e79a2d" stroke-width="1.8"/><clipPath id="f15651"><circle cx="1565.1" cy="442.5" r="7.9"/></clipPath><g clip-path="url(#f15651)"><rect x="1557.1999999999998" y="434.6" width="15.8" height="15.8" fill="#fff"/><rect x="1557.1999999999998" y="434.60" width="15.8" height="3.16" fill="#dc524a"/><rect x="1557.1999999999998" y="440.92" width="15.8" height="3.16" fill="#dc524a"/><rect x="1557.1999999999998" y="447.24" width="15.8" height="3.16" fill="#dc524a"/><rect x="1557.1999999999998" y="434.6" width="10.00" height="10.30" fill="#3a72c8"/><rect x="1558.90" y="436.00" width="1.3" height="1.3" fill="#d8ecff"/><rect x="1561.50" y="436.00" width="1.3" height="1.3" fill="#d8ecff"/><rect x="1564.10" y="436.00" width="1.3" height="1.3" fill="#d8ecff"/><rect x="1558.90" y="438.60" width="1.3" height="1.3" fill="#d8ecff"/><rect x="1561.50" y="438.60" width="1.3" height="1.3" fill="#d8ecff"/><rect x="1564.10" y="438.60" width="1.3" height="1.3" fill="#d8ecff"/><rect x="1558.90" y="441.20" width="1.3" height="1.3" fill="#d8ecff"/><rect x="1561.50" y="441.20" width="1.3" height="1.3" fill="#d8ecff"/><rect x="1564.10" y="441.20" width="1.3" height="1.3" fill="#d8ecff"/></g>
<circle cx="1554.2" cy="442.5" r="9.20" fill="#fff" stroke="#e79a2d" stroke-width="1.8"/><clipPath id="f15542"><circle cx="1554.2" cy="442.5" r="7.9"/></clipPath><g clip-path="url(#f15542)"><rect x="1546.3" y="434.6" width="15.8" height="15.8" fill="#fff"/><rect x="1546.3" y="434.60" width="15.8" height="3.16" fill="#dc524a"/><rect x="1546.3" y="440.92" width="15.8" height="3.16" fill="#dc524a"/><rect x="1546.3" y="447.24" width="15.8" height="3.16" fill="#dc524a"/><rect x="1546.3" y="434.6" width="10.00" height="10.30" fill="#3a72c8"/><rect x="1548.00" y="436.00" width="1.3" height="1.3" fill="#d8ecff"/><rect x="1550.60" y="436.00" width="1.3" height="1.3" fill="#d8ecff"/><rect x="1553.20" y="436.00" width="1.3" height="1.3" fill="#d8ecff"/><rect x="1548.00" y="438.60" width="1.3" height="1.3" fill="#d8ecff"/><rect x="1550.60" y="438.60" width="1.3" height="1.3" fill="#d8ecff"/><rect x="1553.20" y="438.60" width="1.3" height="1.3" fill="#d8ecff"/><rect x="1548.00" y="441.20" width="1.3" height="1.3" fill="#d8ecff"/><rect x="1550.60" y="441.20" width="1.3" height="1.3" fill="#d8ecff"/><rect x="1553.20" y="441.20" width="1.3" height="1.3" fill="#d8ecff"/></g>
<circle cx="1594.7" cy="442.5" r="9.20" fill="#fff" stroke="#e79a2d" stroke-width="1.8"/><clipPath id="f15947"><circle cx="1594.7" cy="442.5" r="7.9"/></clipPath><g clip-path="url(#f15947)"><rect x="1586.8" y="434.6" width="15.8" height="15.8" fill="#fff"/><rect x="1586.8" y="434.60" width="15.8" height="3.16" fill="#dc524a"/><rect x="1586.8" y="440.92" width="15.8" height="3.16" fill="#dc524a"/><rect x="1586.8" y="447.24" width="15.8" height="3.16" fill="#dc524a"/><rect x="1586.8" y="434.6" width="10.00" height="10.30" fill="#3a72c8"/><rect x="1588.50" y="436.00" width="1.3" height="1.3" fill="#d8ecff"/><rect x="1591.10" y="436.00" width="1.3" height="1.3" fill="#d8ecff"/><rect x="1593.70" y="436.00" width="1.3" height="1.3" fill="#d8ecff"/><rect x="1588.50" y="438.60" width="1.3" height="1.3" fill="#d8ecff"/><rect x="1591.10" y="438.60" width="1.3" height="1.3" fill="#d8ecff"/><rect x="1593.70" y="438.60" width="1.3" height="1.3" fill="#d8ecff"/><rect x="1588.50" y="441.20" width="1.3" height="1.3" fill="#d8ecff"/><rect x="1591.10" y="441.20" width="1.3" height="1.3" fill="#d8ecff"/><rect x="1593.70" y="441.20" width="1.3" height="1.3" fill="#d8ecff"/></g>
<circle cx="1643.1" cy="442.5" r="9.70" fill="#fff" stroke="#d25a55" stroke-width="1.8"/><clipPath id="f16431"><circle cx="1643.1" cy="442.5" r="7.9"/></clipPath><g clip-path="url(#f16431)"><rect x="1635.1999999999998" y="434.6" width="15.8" height="15.8" fill="#1c3f94"/><rect x="1635.1999999999998" y="434.6" width="7.9" height="7.9" fill="#f3e6ec"/><path d="M1635.1999999999998 434.6L1643.1 442.5M1643.1 434.6L1635.1999999999998 442.5" stroke="#d9646a" stroke-width="1.2"/><path d="M1639.15 434.6V442.5M1635.1999999999998 438.55H1643.1" stroke="#c8454f" stroke-width="1.4"/><circle cx="1646.50" cy="438.90" r="0.9" fill="#e6f2ff"/><circle cx="1648.50" cy="441.00" r="0.8" fill="#e6f2ff"/><circle cx="1644.60" cy="441.90" r="0.8" fill="#e6f2ff"/><circle cx="1647.20" cy="443.20" r="0.6" fill="#e6f2ff"/><circle cx="1646.50" cy="446.60" r="0.8" fill="#e6f2ff"/><circle cx="1639.50" cy="445.80" r="1.5" fill="#e6f2ff"/></g>
<rect x="4.5" y="28.5" width="60" height="23" rx="3.5" fill="#fff" stroke="#b85c57" stroke-width="1"/>
<rect x="96.5" y="28.5" width="60" height="23" rx="3.5" fill="#fff" stroke="#4c64a6" stroke-width="1"/>
<text x="11.5" y="44.7" font-size="12.4" fill="#d04f4b">0.7427<tspan font-size="11" dx="0.8" dy="-1.8">5</tspan></text>
<text x="104" y="44.7" font-size="12.4" fill="#3d5cbc">0.7427<tspan font-size="11" dx="0.6" dy="-1.8">7</tspan></text>
<text x="72.5" y="44.6" font-size="12" fill="#4a4a4a">0.2</text>
<rect x="5.5" y="106.5" width="27.5" height="20" rx="3" fill="#fff" fill-opacity="0.8" stroke="#d8d9dc"/>
<path d="M15.4 118.6l4.1-4.1 4.1 4.1" stroke="#131722" stroke-width="1.45" fill="none"/>
<text x="5" y="18" font-size="14.9" fill="#43434b" textLength="296" lengthAdjust="spacing">Australian Dollar / U.S. Dollar · 1h · FXCM</text>
<path d="M323.1 3.3H333.8V20.7H323.1A8.7 8.7 0 0 1 323.1 3.3Z" fill="#e2efed"/>
<path d="M333.8 3.3H344.9A8.7 8.7 0 0 1 344.9 20.7H333.8Z" fill="#fcc3d7"/>
<circle cx="325" cy="11.8" r="4" fill="#089981"/>
<text x="343" y="17" font-size="16" fill="#c2185b" text-anchor="middle" font-weight="bold">≈</text>
<text x="369.5" y="18" font-size="12.6" fill="#4a4a4a">O</text>
<text x="379" y="18" font-size="12.6" fill="#26a69a">0.74263</text>
<text x="431" y="18" font-size="12.6" fill="#4a4a4a">H</text>
<text x="439.6" y="18" font-size="12.6" fill="#26a69a">0.74277</text>
<text x="492.3" y="18" font-size="12.6" fill="#4a4a4a">L</text>
<text x="499.7" y="18" font-size="12.6" fill="#26a69a">0.74263</text>
<text x="551.2" y="18" font-size="12.6" fill="#4a4a4a">C</text>
<text x="560" y="18" font-size="12.6" fill="#26a69a">0.74275</text>
<text x="612.5" y="18" font-size="12.6" fill="#26a69a">+0.00012</text>
<text x="669" y="18" font-size="12.6" fill="#26a69a">(+0.02%)</text>
<text x="5.2" y="72.5" font-size="12.2" fill="#4a4a4a">Vol</text>
<text x="31.3" y="72.5" font-size="12.2" fill="#26a69a">144</text>
<text x="5.2" y="96.9" font-size="12.2" fill="#4a4a4a" textLength="75.8" lengthAdjust="spacing">EMA 20 close</text>
<text x="87.8" y="96.9" font-size="12.7" fill="#4f9f58">0.74158</text>
<rect x="0" y="464" width="277" height="18" fill="#fff" fill-opacity="0.85"/>
<text x="4.6" y="477.6" font-size="12.2" fill="#4a4a4a" textLength="114.2" lengthAdjust="spacing">MACD 12 26 close 9</text>
<text x="124.7" y="477.6" font-size="12.6" fill="#26a69a">0.00011</text>
<text x="176.4" y="477.6" font-size="12.6" fill="#222">0.00042</text>
<text x="228.1" y="477.6" font-size="12.6" fill="#d8645c">0.00031</text>
<rect x="0" y="604" width="118" height="19" fill="#fff" fill-opacity="0.85"/>
<text x="4.6" y="617.8" font-size="12.2" fill="#4a4a4a" textLength="68.3" lengthAdjust="spacing">RSI 14 close</text>
<text x="81.4" y="617.8" font-size="12.9" fill="#222">61.12</text>
<circle cx="19.7" cy="763.7" r="16.2" fill="#fff" stroke="#e2e3e6" stroke-width="1"/>
<path d="M9.1 759H17.7V769.7H13.9V762.8H9.1Z" fill="#131722"/>
<circle cx="21" cy="760.8" r="1.8" fill="#131722"/>
<path d="M26.1 759H30.3L25.8 769.7H21.2Z" fill="#131722"/>
</svg>
</div></body></html>
